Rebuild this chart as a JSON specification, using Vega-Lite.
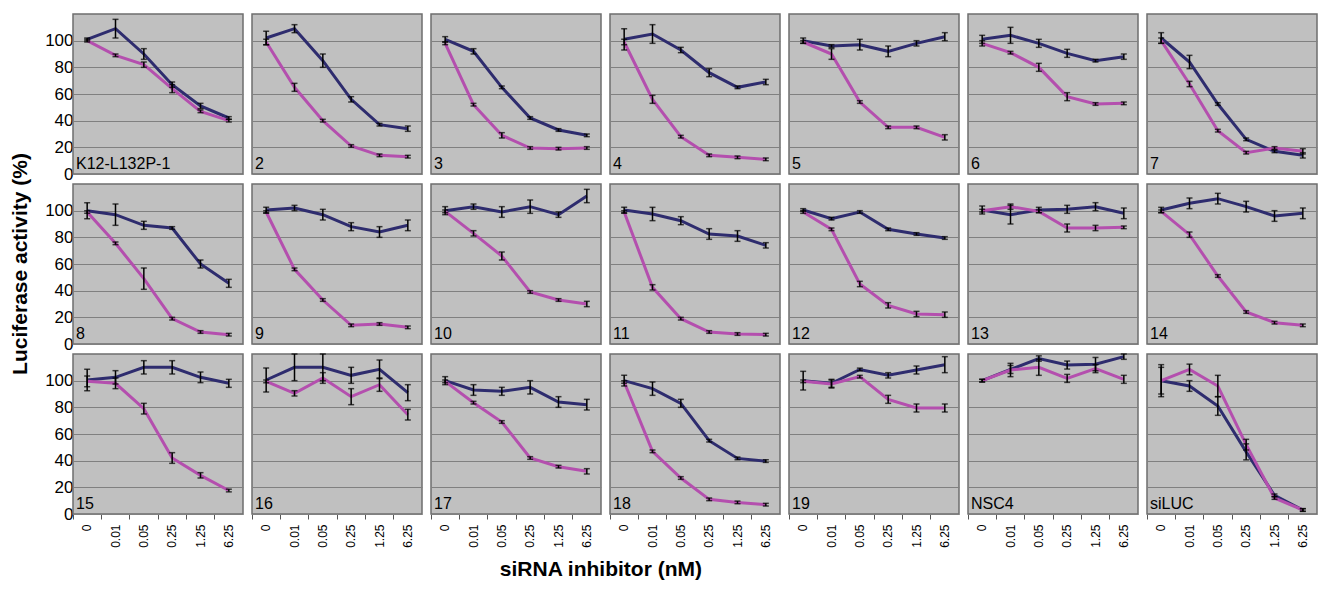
{
"$schema":"https://vega.github.io/schema/vega-lite/v6.json",
"padding":{"left":9,"top":13,"right":5,"bottom":5},
"background":"white",
"bounds":"flush",
"data":{"values":[
{"p":"K12-L132P-1","r":1,"c":1,"x":"0","s":"n","v":101,"e":1},{"p":"K12-L132P-1","r":1,"c":1,"x":"0.01","s":"n","v":109,"e":7},{"p":"K12-L132P-1","r":1,"c":1,"x":"0.05","s":"n","v":90,"e":4},{"p":"K12-L132P-1","r":1,"c":1,"x":"0.25","s":"n","v":67,"e":2},{"p":"K12-L132P-1","r":1,"c":1,"x":"1.25","s":"n","v":51,"e":2},{"p":"K12-L132P-1","r":1,"c":1,"x":"6.25","s":"n","v":42,"e":1},
{"p":"K12-L132P-1","r":1,"c":1,"x":"0","s":"m","v":100,"e":1},{"p":"K12-L132P-1","r":1,"c":1,"x":"0.01","s":"m","v":89,"e":1},{"p":"K12-L132P-1","r":1,"c":1,"x":"0.05","s":"m","v":82,"e":2},{"p":"K12-L132P-1","r":1,"c":1,"x":"0.25","s":"m","v":64,"e":3},{"p":"K12-L132P-1","r":1,"c":1,"x":"1.25","s":"m","v":47,"e":1},{"p":"K12-L132P-1","r":1,"c":1,"x":"6.25","s":"m","v":40,"e":1},
{"p":"2","r":1,"c":2,"x":"0","s":"n","v":102,"e":5},{"p":"2","r":1,"c":2,"x":"0.01","s":"n","v":109,"e":3},{"p":"2","r":1,"c":2,"x":"0.05","s":"n","v":85,"e":5},{"p":"2","r":1,"c":2,"x":"0.25","s":"n","v":56,"e":2},{"p":"2","r":1,"c":2,"x":"1.25","s":"n","v":37,"e":1},{"p":"2","r":1,"c":2,"x":"6.25","s":"n","v":34,"e":2},
{"p":"2","r":1,"c":2,"x":"0","s":"m","v":99,"e":2},{"p":"2","r":1,"c":2,"x":"0.01","s":"m","v":65,"e":3},{"p":"2","r":1,"c":2,"x":"0.05","s":"m","v":40,"e":1},{"p":"2","r":1,"c":2,"x":"0.25","s":"m","v":21,"e":1},{"p":"2","r":1,"c":2,"x":"1.25","s":"m","v":14,"e":1},{"p":"2","r":1,"c":2,"x":"6.25","s":"m","v":13,"e":1},
{"p":"3","r":1,"c":3,"x":"0","s":"n","v":101,"e":2},{"p":"3","r":1,"c":3,"x":"0.01","s":"n","v":92,"e":2},{"p":"3","r":1,"c":3,"x":"0.05","s":"n","v":65,"e":1},{"p":"3","r":1,"c":3,"x":"0.25","s":"n","v":42,"e":1},{"p":"3","r":1,"c":3,"x":"1.25","s":"n","v":33,"e":1},{"p":"3","r":1,"c":3,"x":"6.25","s":"n","v":29,"e":1},
{"p":"3","r":1,"c":3,"x":"0","s":"m","v":98,"e":1},{"p":"3","r":1,"c":3,"x":"0.01","s":"m","v":52,"e":1},{"p":"3","r":1,"c":3,"x":"0.05","s":"m","v":29,"e":2},{"p":"3","r":1,"c":3,"x":"0.25","s":"m","v":19.5,"e":1},{"p":"3","r":1,"c":3,"x":"1.25","s":"m","v":19,"e":1},{"p":"3","r":1,"c":3,"x":"6.25","s":"m","v":19.5,"e":1},
{"p":"4","r":1,"c":4,"x":"0","s":"n","v":101,"e":8},{"p":"4","r":1,"c":4,"x":"0.01","s":"n","v":105,"e":7},{"p":"4","r":1,"c":4,"x":"0.05","s":"n","v":93,"e":2},{"p":"4","r":1,"c":4,"x":"0.25","s":"n","v":76,"e":3},{"p":"4","r":1,"c":4,"x":"1.25","s":"n","v":65,"e":1},{"p":"4","r":1,"c":4,"x":"6.25","s":"n","v":69,"e":2},
{"p":"4","r":1,"c":4,"x":"0","s":"m","v":99,"e":2},{"p":"4","r":1,"c":4,"x":"0.01","s":"m","v":56,"e":3},{"p":"4","r":1,"c":4,"x":"0.05","s":"m","v":28,"e":1},{"p":"4","r":1,"c":4,"x":"0.25","s":"m","v":14,"e":1},{"p":"4","r":1,"c":4,"x":"1.25","s":"m","v":12.5,"e":1},{"p":"4","r":1,"c":4,"x":"6.25","s":"m","v":11,"e":1},
{"p":"5","r":1,"c":5,"x":"0","s":"n","v":100,"e":2},{"p":"5","r":1,"c":5,"x":"0.01","s":"n","v":96,"e":1},{"p":"5","r":1,"c":5,"x":"0.05","s":"n","v":97,"e":4},{"p":"5","r":1,"c":5,"x":"0.25","s":"n","v":92,"e":4},{"p":"5","r":1,"c":5,"x":"1.25","s":"n","v":98,"e":2},{"p":"5","r":1,"c":5,"x":"6.25","s":"n","v":103,"e":3},
{"p":"5","r":1,"c":5,"x":"0","s":"m","v":99,"e":1},{"p":"5","r":1,"c":5,"x":"0.01","s":"m","v":90,"e":4},{"p":"5","r":1,"c":5,"x":"0.05","s":"m","v":54,"e":1},{"p":"5","r":1,"c":5,"x":"0.25","s":"m","v":35,"e":1},{"p":"5","r":1,"c":5,"x":"1.25","s":"m","v":35,"e":1},{"p":"5","r":1,"c":5,"x":"6.25","s":"m","v":27.5,"e":2},
{"p":"6","r":1,"c":6,"x":"0","s":"n","v":101,"e":3},{"p":"6","r":1,"c":6,"x":"0.01","s":"n","v":104,"e":6},{"p":"6","r":1,"c":6,"x":"0.05","s":"n","v":98,"e":3},{"p":"6","r":1,"c":6,"x":"0.25","s":"n","v":90.5,"e":3},{"p":"6","r":1,"c":6,"x":"1.25","s":"n","v":85,"e":1},{"p":"6","r":1,"c":6,"x":"6.25","s":"n","v":88,"e":2},
{"p":"6","r":1,"c":6,"x":"0","s":"m","v":98,"e":2},{"p":"6","r":1,"c":6,"x":"0.01","s":"m","v":91,"e":1},{"p":"6","r":1,"c":6,"x":"0.05","s":"m","v":80,"e":3},{"p":"6","r":1,"c":6,"x":"0.25","s":"m","v":58,"e":3},{"p":"6","r":1,"c":6,"x":"1.25","s":"m","v":52.5,"e":1},{"p":"6","r":1,"c":6,"x":"6.25","s":"m","v":53,"e":1},
{"p":"7","r":1,"c":7,"x":"0","s":"n","v":102,"e":4},{"p":"7","r":1,"c":7,"x":"0.01","s":"n","v":84,"e":5},{"p":"7","r":1,"c":7,"x":"0.05","s":"n","v":52.5,"e":1},{"p":"7","r":1,"c":7,"x":"0.25","s":"n","v":26,"e":1},{"p":"7","r":1,"c":7,"x":"1.25","s":"n","v":17,"e":1},{"p":"7","r":1,"c":7,"x":"6.25","s":"n","v":14,"e":2},
{"p":"7","r":1,"c":7,"x":"0","s":"m","v":100,"e":2},{"p":"7","r":1,"c":7,"x":"0.01","s":"m","v":67.5,"e":2},{"p":"7","r":1,"c":7,"x":"0.05","s":"m","v":32.5,"e":1},{"p":"7","r":1,"c":7,"x":"0.25","s":"m","v":16,"e":1},{"p":"7","r":1,"c":7,"x":"1.25","s":"m","v":19.5,"e":1},{"p":"7","r":1,"c":7,"x":"6.25","s":"m","v":17,"e":2},
{"p":"8","r":2,"c":1,"x":"0","s":"n","v":100,"e":6},{"p":"8","r":2,"c":1,"x":"0.01","s":"n","v":97,"e":8},{"p":"8","r":2,"c":1,"x":"0.05","s":"n","v":89,"e":3},{"p":"8","r":2,"c":1,"x":"0.25","s":"n","v":87,"e":1},{"p":"8","r":2,"c":1,"x":"1.25","s":"n","v":60,"e":3},{"p":"8","r":2,"c":1,"x":"6.25","s":"n","v":45.5,"e":3},
{"p":"8","r":2,"c":1,"x":"0","s":"m","v":99,"e":1},{"p":"8","r":2,"c":1,"x":"0.01","s":"m","v":75.5,"e":1},{"p":"8","r":2,"c":1,"x":"0.05","s":"m","v":49,"e":8},{"p":"8","r":2,"c":1,"x":"0.25","s":"m","v":19,"e":1},{"p":"8","r":2,"c":1,"x":"1.25","s":"m","v":9,"e":1},{"p":"8","r":2,"c":1,"x":"6.25","s":"m","v":7,"e":1},
{"p":"9","r":2,"c":2,"x":"0","s":"n","v":100.5,"e":2},{"p":"9","r":2,"c":2,"x":"0.01","s":"n","v":102,"e":2},{"p":"9","r":2,"c":2,"x":"0.05","s":"n","v":97,"e":4},{"p":"9","r":2,"c":2,"x":"0.25","s":"n","v":88,"e":3},{"p":"9","r":2,"c":2,"x":"1.25","s":"n","v":84,"e":4},{"p":"9","r":2,"c":2,"x":"6.25","s":"n","v":89,"e":4},
{"p":"9","r":2,"c":2,"x":"0","s":"m","v":99,"e":1},{"p":"9","r":2,"c":2,"x":"0.01","s":"m","v":56,"e":1},{"p":"9","r":2,"c":2,"x":"0.05","s":"m","v":33,"e":1},{"p":"9","r":2,"c":2,"x":"0.25","s":"m","v":14,"e":1},{"p":"9","r":2,"c":2,"x":"1.25","s":"m","v":15,"e":1},{"p":"9","r":2,"c":2,"x":"6.25","s":"m","v":12.5,"e":1},
{"p":"10","r":2,"c":3,"x":"0","s":"n","v":100,"e":3},{"p":"10","r":2,"c":3,"x":"0.01","s":"n","v":103,"e":2},{"p":"10","r":2,"c":3,"x":"0.05","s":"n","v":99,"e":4},{"p":"10","r":2,"c":3,"x":"0.25","s":"n","v":103,"e":5},{"p":"10","r":2,"c":3,"x":"1.25","s":"n","v":97,"e":2},{"p":"10","r":2,"c":3,"x":"6.25","s":"n","v":111,"e":5},
{"p":"10","r":2,"c":3,"x":"0","s":"m","v":99.5,"e":1},{"p":"10","r":2,"c":3,"x":"0.01","s":"m","v":83,"e":2},{"p":"10","r":2,"c":3,"x":"0.05","s":"m","v":66,"e":3},{"p":"10","r":2,"c":3,"x":"0.25","s":"m","v":39,"e":1},{"p":"10","r":2,"c":3,"x":"1.25","s":"m","v":33,"e":1},{"p":"10","r":2,"c":3,"x":"6.25","s":"m","v":30,"e":2},
{"p":"11","r":2,"c":4,"x":"0","s":"n","v":100.5,"e":2},{"p":"11","r":2,"c":4,"x":"0.01","s":"n","v":97.5,"e":5},{"p":"11","r":2,"c":4,"x":"0.05","s":"n","v":92.5,"e":3},{"p":"11","r":2,"c":4,"x":"0.25","s":"n","v":82.5,"e":4},{"p":"11","r":2,"c":4,"x":"1.25","s":"n","v":81,"e":4},{"p":"11","r":2,"c":4,"x":"6.25","s":"n","v":74,"e":2},
{"p":"11","r":2,"c":4,"x":"0","s":"m","v":99,"e":1},{"p":"11","r":2,"c":4,"x":"0.01","s":"m","v":42.5,"e":2},{"p":"11","r":2,"c":4,"x":"0.05","s":"m","v":19,"e":1},{"p":"11","r":2,"c":4,"x":"0.25","s":"m","v":9,"e":1},{"p":"11","r":2,"c":4,"x":"1.25","s":"m","v":7.5,"e":1},{"p":"11","r":2,"c":4,"x":"6.25","s":"m","v":7,"e":1},
{"p":"12","r":2,"c":5,"x":"0","s":"n","v":100.5,"e":1},{"p":"12","r":2,"c":5,"x":"0.01","s":"n","v":94,"e":1},{"p":"12","r":2,"c":5,"x":"0.05","s":"n","v":99,"e":1},{"p":"12","r":2,"c":5,"x":"0.25","s":"n","v":86,"e":1},{"p":"12","r":2,"c":5,"x":"1.25","s":"n","v":82.5,"e":1},{"p":"12","r":2,"c":5,"x":"6.25","s":"n","v":79.5,"e":1},
{"p":"12","r":2,"c":5,"x":"0","s":"m","v":99,"e":1},{"p":"12","r":2,"c":5,"x":"0.01","s":"m","v":86,"e":1},{"p":"12","r":2,"c":5,"x":"0.05","s":"m","v":45,"e":2},{"p":"12","r":2,"c":5,"x":"0.25","s":"m","v":29,"e":2},{"p":"12","r":2,"c":5,"x":"1.25","s":"m","v":22.5,"e":2},{"p":"12","r":2,"c":5,"x":"6.25","s":"m","v":22,"e":2},
{"p":"13","r":2,"c":6,"x":"0","s":"n","v":100.5,"e":3},{"p":"13","r":2,"c":6,"x":"0.01","s":"n","v":97,"e":7},{"p":"13","r":2,"c":6,"x":"0.05","s":"n","v":100.5,"e":2},{"p":"13","r":2,"c":6,"x":"0.25","s":"n","v":101,"e":3},{"p":"13","r":2,"c":6,"x":"1.25","s":"n","v":103,"e":3},{"p":"13","r":2,"c":6,"x":"6.25","s":"n","v":98,"e":4},
{"p":"13","r":2,"c":6,"x":"0","s":"m","v":100,"e":1},{"p":"13","r":2,"c":6,"x":"0.01","s":"m","v":103,"e":2},{"p":"13","r":2,"c":6,"x":"0.05","s":"m","v":99.5,"e":1},{"p":"13","r":2,"c":6,"x":"0.25","s":"m","v":87,"e":3},{"p":"13","r":2,"c":6,"x":"1.25","s":"m","v":87,"e":2},{"p":"13","r":2,"c":6,"x":"6.25","s":"m","v":87.5,"e":1},
{"p":"14","r":2,"c":7,"x":"0","s":"n","v":100.5,"e":2},{"p":"14","r":2,"c":7,"x":"0.01","s":"n","v":105.5,"e":4},{"p":"14","r":2,"c":7,"x":"0.05","s":"n","v":109,"e":4},{"p":"14","r":2,"c":7,"x":"0.25","s":"n","v":103,"e":4},{"p":"14","r":2,"c":7,"x":"1.25","s":"n","v":96,"e":4},{"p":"14","r":2,"c":7,"x":"6.25","s":"n","v":98,"e":4},
{"p":"14","r":2,"c":7,"x":"0","s":"m","v":99.5,"e":1},{"p":"14","r":2,"c":7,"x":"0.01","s":"m","v":82,"e":2},{"p":"14","r":2,"c":7,"x":"0.05","s":"m","v":51,"e":1},{"p":"14","r":2,"c":7,"x":"0.25","s":"m","v":24,"e":1},{"p":"14","r":2,"c":7,"x":"1.25","s":"m","v":16,"e":1},{"p":"14","r":2,"c":7,"x":"6.25","s":"m","v":14,"e":1},
{"p":"15","r":3,"c":1,"x":"0","s":"n","v":100.5,"e":8},{"p":"15","r":3,"c":1,"x":"0.01","s":"n","v":102.5,"e":5},{"p":"15","r":3,"c":1,"x":"0.05","s":"n","v":110,"e":5},{"p":"15","r":3,"c":1,"x":"0.25","s":"n","v":110,"e":5},{"p":"15","r":3,"c":1,"x":"1.25","s":"n","v":102.5,"e":4},{"p":"15","r":3,"c":1,"x":"6.25","s":"n","v":98,"e":3},
{"p":"15","r":3,"c":1,"x":"0","s":"m","v":99.5,"e":4},{"p":"15","r":3,"c":1,"x":"0.01","s":"m","v":98,"e":4},{"p":"15","r":3,"c":1,"x":"0.05","s":"m","v":79,"e":4},{"p":"15","r":3,"c":1,"x":"0.25","s":"m","v":42,"e":4},{"p":"15","r":3,"c":1,"x":"1.25","s":"m","v":29,"e":2},{"p":"15","r":3,"c":1,"x":"6.25","s":"m","v":17.6,"e":1},
{"p":"16","r":3,"c":2,"x":"0","s":"n","v":100.5,"e":9},{"p":"16","r":3,"c":2,"x":"0.01","s":"n","v":110,"e":10},{"p":"16","r":3,"c":2,"x":"0.05","s":"n","v":110,"e":10},{"p":"16","r":3,"c":2,"x":"0.25","s":"n","v":104,"e":6},{"p":"16","r":3,"c":2,"x":"1.25","s":"n","v":108.5,"e":7},{"p":"16","r":3,"c":2,"x":"6.25","s":"n","v":91,"e":6},
{"p":"16","r":3,"c":2,"x":"0","s":"m","v":99.5,"e":1},{"p":"16","r":3,"c":2,"x":"0.01","s":"m","v":90.5,"e":2},{"p":"16","r":3,"c":2,"x":"0.05","s":"m","v":102,"e":4},{"p":"16","r":3,"c":2,"x":"0.25","s":"m","v":88,"e":6},{"p":"16","r":3,"c":2,"x":"1.25","s":"m","v":97,"e":5},{"p":"16","r":3,"c":2,"x":"6.25","s":"m","v":74.5,"e":4},
{"p":"17","r":3,"c":3,"x":"0","s":"n","v":100,"e":3},{"p":"17","r":3,"c":3,"x":"0.01","s":"n","v":93,"e":4},{"p":"17","r":3,"c":3,"x":"0.05","s":"n","v":92,"e":3},{"p":"17","r":3,"c":3,"x":"0.25","s":"n","v":95,"e":5},{"p":"17","r":3,"c":3,"x":"1.25","s":"n","v":84,"e":4},{"p":"17","r":3,"c":3,"x":"6.25","s":"n","v":82,"e":4},
{"p":"17","r":3,"c":3,"x":"0","s":"m","v":99.5,"e":1},{"p":"17","r":3,"c":3,"x":"0.01","s":"m","v":83.5,"e":1},{"p":"17","r":3,"c":3,"x":"0.05","s":"m","v":69,"e":1},{"p":"17","r":3,"c":3,"x":"0.25","s":"m","v":42,"e":1},{"p":"17","r":3,"c":3,"x":"1.25","s":"m","v":35.5,"e":1},{"p":"17","r":3,"c":3,"x":"6.25","s":"m","v":32,"e":2},
{"p":"18","r":3,"c":4,"x":"0","s":"n","v":100,"e":4},{"p":"18","r":3,"c":4,"x":"0.01","s":"n","v":94,"e":5},{"p":"18","r":3,"c":4,"x":"0.05","s":"n","v":83,"e":3},{"p":"18","r":3,"c":4,"x":"0.25","s":"n","v":55,"e":1},{"p":"18","r":3,"c":4,"x":"1.25","s":"n","v":41.7,"e":1},{"p":"18","r":3,"c":4,"x":"6.25","s":"n","v":39.7,"e":1},
{"p":"18","r":3,"c":4,"x":"0","s":"m","v":99,"e":1},{"p":"18","r":3,"c":4,"x":"0.01","s":"m","v":47,"e":1},{"p":"18","r":3,"c":4,"x":"0.05","s":"m","v":27,"e":1},{"p":"18","r":3,"c":4,"x":"0.25","s":"m","v":11,"e":1},{"p":"18","r":3,"c":4,"x":"1.25","s":"m","v":8.7,"e":1},{"p":"18","r":3,"c":4,"x":"6.25","s":"m","v":7,"e":1},
{"p":"19","r":3,"c":5,"x":"0","s":"n","v":100,"e":7},{"p":"19","r":3,"c":5,"x":"0.01","s":"n","v":98,"e":3},{"p":"19","r":3,"c":5,"x":"0.05","s":"n","v":108.4,"e":1},{"p":"19","r":3,"c":5,"x":"0.25","s":"n","v":104,"e":2},{"p":"19","r":3,"c":5,"x":"1.25","s":"n","v":108,"e":3},{"p":"19","r":3,"c":5,"x":"6.25","s":"n","v":112,"e":6},
{"p":"19","r":3,"c":5,"x":"0","s":"m","v":99.5,"e":1},{"p":"19","r":3,"c":5,"x":"0.01","s":"m","v":97.5,"e":3},{"p":"19","r":3,"c":5,"x":"0.05","s":"m","v":103,"e":1},{"p":"19","r":3,"c":5,"x":"0.25","s":"m","v":86,"e":3},{"p":"19","r":3,"c":5,"x":"1.25","s":"m","v":79.5,"e":3},{"p":"19","r":3,"c":5,"x":"6.25","s":"m","v":79.5,"e":3},
{"p":"NSC4","r":3,"c":6,"x":"0","s":"n","v":100,"e":1},{"p":"NSC4","r":3,"c":6,"x":"0.01","s":"n","v":108.4,"e":3},{"p":"NSC4","r":3,"c":6,"x":"0.05","s":"n","v":116.6,"e":2},{"p":"NSC4","r":3,"c":6,"x":"0.25","s":"n","v":111.7,"e":3},{"p":"NSC4","r":3,"c":6,"x":"1.25","s":"n","v":112.4,"e":5},{"p":"NSC4","r":3,"c":6,"x":"6.25","s":"n","v":118,"e":2},
{"p":"NSC4","r":3,"c":6,"x":"0","s":"m","v":100,"e":1},{"p":"NSC4","r":3,"c":6,"x":"0.01","s":"m","v":108,"e":5},{"p":"NSC4","r":3,"c":6,"x":"0.05","s":"m","v":110,"e":6},{"p":"NSC4","r":3,"c":6,"x":"0.25","s":"m","v":101.7,"e":3},{"p":"NSC4","r":3,"c":6,"x":"1.25","s":"m","v":109,"e":3},{"p":"NSC4","r":3,"c":6,"x":"6.25","s":"m","v":101,"e":3},
{"p":"siLUC","r":3,"c":7,"x":"0","s":"n","v":100,"e":10},{"p":"siLUC","r":3,"c":7,"x":"0.01","s":"n","v":96,"e":4},{"p":"siLUC","r":3,"c":7,"x":"0.05","s":"n","v":81,"e":7},{"p":"siLUC","r":3,"c":7,"x":"0.25","s":"n","v":46.6,"e":6},{"p":"siLUC","r":3,"c":7,"x":"1.25","s":"n","v":14,"e":1},{"p":"siLUC","r":3,"c":7,"x":"6.25","s":"n","v":3,"e":1},
{"p":"siLUC","r":3,"c":7,"x":"0","s":"m","v":100,"e":12},{"p":"siLUC","r":3,"c":7,"x":"0.01","s":"m","v":108.4,"e":4},{"p":"siLUC","r":3,"c":7,"x":"0.05","s":"m","v":96,"e":8},{"p":"siLUC","r":3,"c":7,"x":"0.25","s":"m","v":52,"e":4},{"p":"siLUC","r":3,"c":7,"x":"1.25","s":"m","v":12,"e":1},{"p":"siLUC","r":3,"c":7,"x":"6.25","s":"m","v":3,"e":1}
]},
"title":{"text":"siRNA inhibitor (nM)","orient":"bottom","anchor":"middle","dx":-63,"offset":12,"fontSize":21,"fontWeight":"bold","font":"Liberation Sans","color":"black"},
"facet":{
 "row":{"field":"r","type":"ordinal","header":{"title":"Luciferase activity (%)","labels":false,"titleFontSize":21,"titleFontWeight":"bold","titleFont":"Liberation Sans","titleColor":"black","titlePadding":3}},
 "column":{"field":"c","type":"ordinal","header":{"title":null,"labels":false}}
},
"spacing":{"row":10,"column":9},
"spec":{
 "width":170,"height":160,
 "encoding":{
  "x":{"field":"x","type":"ordinal","sort":["0","0.01","0.05","0.25","1.25","6.25"],"scale":{"type":"band","paddingInner":0,"paddingOuter":0},
   "axis":{"title":null,"bandPosition":0,"labelAngle":-90,"labelAlign":"right","labelBaseline":"middle","labelFontSize":12,"labelFont":"Liberation Sans","labelColor":"black","labelPadding":5,"tickSize":5,"tickColor":"#555555","domain":false,"grid":false}},
  "y":{"field":"v","type":"quantitative","scale":{"domain":[0,120],"nice":false},
   "axis":{"title":null,"values":[0,20,40,60,80,100],"grid":true,"gridColor":"#808080","gridWidth":1,"ticks":false,"domain":false,"labelFontSize":17,"labelFont":"Liberation Sans","labelColor":"black","labelPadding":0}}
 },
 "layer":[
  {"mark":{"type":"line","strokeWidth":3,"clip":true},
   "encoding":{"color":{"field":"s","type":"nominal","scale":{"domain":["n","m"],"range":["#2e2c6e","#b44fae"]},"legend":null}}},
  {"mark":{"type":"errorbar","ticks":{"size":6},"thickness":1.5,"color":"black"},
   "encoding":{"yError":{"field":"e"},"detail":{"field":"s","type":"nominal"}}},
  {"transform":[{"filter":"datum.x == '0' && datum.s == 'n'"}],
   "mark":{"type":"text","align":"left","baseline":"bottom","dx":3,"dy":-2,"fontSize":16,"font":"Liberation Sans","color":"black"},
   "encoding":{"x":{"field":"x","type":"ordinal","sort":["0","0.01","0.05","0.25","1.25","6.25"],"bandPosition":0},"y":{"datum":0},"text":{"field":"p"}}}
 ]
},
"config":{"view":{"fill":"#c0c0c0","stroke":"#6e6e6e","strokeWidth":1.5}}
}
